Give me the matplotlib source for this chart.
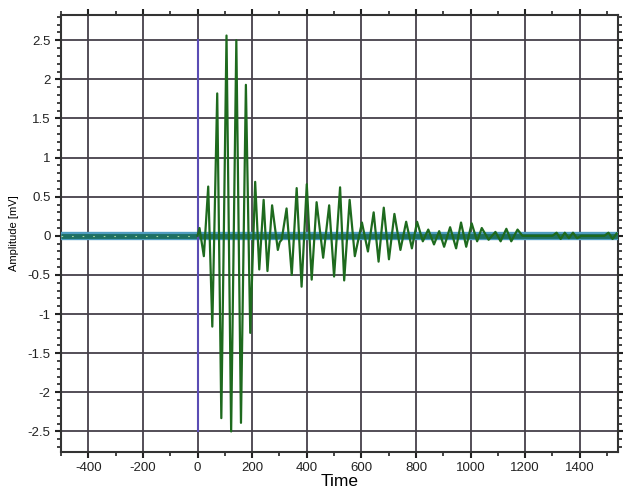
#!/usr/bin/env python3

import matplotlib.pyplot as plt
from matplotlib.ticker import MultipleLocator, FormatStrFormatter

plt.rcParams['font.family'] = ['Liberation Sans', 'DejaVu Sans']
plt.rcParams['axes.unicode_minus'] = False

t = [0, 7, 23, 39, 54, 72, 87, 106, 123, 142, 159, 177, 193, 211, 226, 242, 256,
     273, 294, 301, 308, 326, 345, 363, 381, 400, 418, 436, 460, 482, 500, 522,
     537, 557, 576, 602, 624, 645, 663, 682, 701, 721, 743, 764, 785, 804, 825,
     845, 866, 885, 903, 925, 947, 965, 984, 1004, 1024, 1041, 1066, 1091, 1110,
     1131, 1149, 1172, 1190, 1300, 1315, 1330, 1345, 1360, 1375, 1390, 1405, 1490,
     1505, 1520, 1535]
amp = [0, 0.10, -0.26, 0.63, -1.16, 1.82, -2.33, 2.56, -2.50, 2.50, -2.39, 1.93,
       -1.24, 0.69, -0.43, 0.46, -0.45, 0.39, -0.18, -0.08, -0.05, 0.35, -0.50,
       0.61, -0.65, 0.66, -0.56, 0.43, -0.28, 0.39, -0.52, 0.62, -0.57, 0.46,
       -0.26, 0.17, -0.20, 0.30, -0.33, 0.36, -0.30, 0.28, -0.18, 0.18, -0.16,
       0.18, -0.07, 0.08, -0.11, 0.06, -0.14, 0.11, -0.16, 0.17, -0.14, 0.16,
       -0.07, 0.10, -0.05, 0.05, -0.07, 0.09, -0.07, 0.08, 0, 0, 0.04, -0.04,
       0.04, -0.03, 0.04, -0.03, 0, 0, 0.04, -0.04, 0.03]

xlim = (-500, 1540)
ylim = (-2.76, 2.82)

fig = plt.figure(figsize=(6.23, 4.90), dpi=100)
ax = fig.add_axes([0.098, 0.078, 0.894, 0.891])

ax.set_xlim(*xlim)
ax.set_ylim(*ylim)

ax.xaxis.set_major_locator(MultipleLocator(200))
ax.xaxis.set_minor_locator(MultipleLocator(100))
ax.yaxis.set_major_locator(MultipleLocator(0.5))
ax.yaxis.set_minor_locator(MultipleLocator(0.1))
ax.yaxis.set_major_formatter(FormatStrFormatter('%g'))
ax.tick_params(which='both', direction='out', top=True, right=True,
               labeltop=False, labelright=False, colors='#222222',
               labelsize=9.5)
ax.tick_params(which='major', length=4, width=1.5)
ax.tick_params(which='minor', length=3, width=1.2)

ax.grid(True, which='major', color='#45404a', lw=1.3)
ax.set_axisbelow(True)
for s in ax.spines.values():
    s.set_color('#333333')
    s.set_linewidth(1.5)

# baseline band
ax.plot(xlim, [0, 0], color='#4f9cc0', lw=6, solid_capstyle='butt', zorder=3)
ax.plot(xlim, [0, 0], color='#1d6f62', lw=3.5, solid_capstyle='butt', zorder=3)
ax.plot([xlim[0], 0], [0, 0], color='#a8d8a0', lw=0.8, ls=(0, (1.5, 8)), zorder=4)

# trigger marker
ax.plot([0, 0], [-2.5, 2.5], color='#5a4cb4', lw=1.5, zorder=4)

ax.plot(t, amp, color='#1e6a1e', lw=1.6, zorder=5)

ax.set_ylabel('Amplitude [mV]', fontsize=8)
ax.yaxis.set_label_coords(-0.075, 0.5)
ax.set_xlabel('Time', fontsize=12.5, labelpad=0)

fig.savefig('out.png', dpi=100)
